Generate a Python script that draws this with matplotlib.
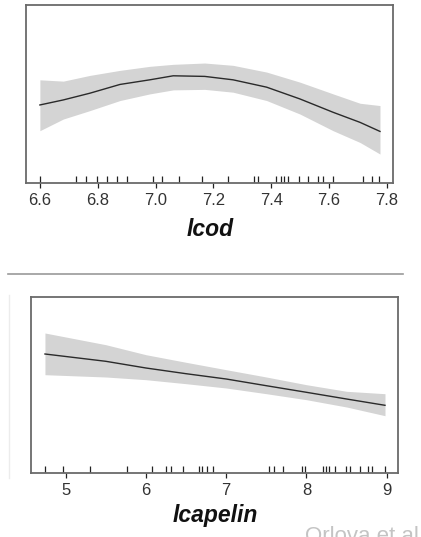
import matplotlib
matplotlib.use("Agg")
import matplotlib.pyplot as plt
from matplotlib.lines import Line2D

# ---------------- data ----------------
cod_x = [6.600, 6.681, 6.773, 6.877, 6.980, 7.061, 7.170, 7.268, 7.384, 7.499, 7.614, 7.707, 7.776]
cod_fit = [0.773, 0.823, 0.890, 0.977, 1.023, 1.063, 1.057, 1.023, 0.950, 0.833, 0.700, 0.600, 0.510]
cod_upper = [1.023, 1.010, 1.067, 1.117, 1.157, 1.177, 1.190, 1.167, 1.100, 1.000, 0.883, 0.790, 0.767]
cod_lower = [0.517, 0.633, 0.717, 0.817, 0.883, 0.923, 0.928, 0.900, 0.817, 0.683, 0.517, 0.400, 0.285]
cod_rug = [6.600, 6.725, 6.759, 6.796, 6.833, 6.865, 6.900, 6.992, 7.021, 7.081,
           7.159, 7.249, 7.340, 7.355, 7.418, 7.433, 7.444, 7.459, 7.496, 7.528,
           7.563, 7.578, 7.614, 7.718, 7.747, 7.772]
cod_ticks = [6.6, 6.8, 7.0, 7.2, 7.4, 7.6, 7.8]
cod_ticklabels = ["6.6", "6.8", "7.0", "7.2", "7.4", "7.6", "7.8"]

cap_x = [4.742, 5.5, 6.0, 6.5, 7.0, 7.5, 8.0, 8.5, 8.979]
cap_fit = [1.190, 1.117, 1.050, 0.993, 0.940, 0.873, 0.807, 0.740, 0.677]
cap_upper = [1.400, 1.283, 1.183, 1.107, 1.033, 0.960, 0.883, 0.817, 0.793]
cap_lower = [0.983, 0.960, 0.933, 0.893, 0.850, 0.793, 0.733, 0.660, 0.573]
cap_rug = [4.742, 4.971, 5.303, 5.760, 6.072, 6.246, 6.308, 6.466, 6.666, 6.703,
           6.765, 6.840, 7.538, 7.596, 7.704, 7.941, 7.983, 8.211, 8.244, 8.281,
           8.356, 8.489, 8.543, 8.668, 8.771, 8.813, 8.979]
cap_ticks = [5, 6, 7, 8, 9]
cap_ticklabels = ["5", "6", "7", "8", "9"]

# ---------------- figure ----------------
W, H = 421, 537
fig = plt.figure(figsize=(W / 100, H / 100), dpi=100)
fig.patch.set_facecolor("white")

BAND = "#d4d4d4"
LINE = "#2a2a2a"
BOX = "#6a6a6a"
TXT = "#333333"
FONT = "Liberation Sans"


def panel(rect, x, fit, lo, hi, rug, ticks, labels, xlim, ylim, xlabel, lab_y):
    ax = fig.add_axes(rect)
    ax.fill_between(x, lo, hi, color=BAND, lw=0)
    ax.plot(x, fit, color=LINE, lw=1.0)
    ax.vlines(rug, 0, 0.038, transform=ax.get_xaxis_transform(), color="#222222", lw=0.9)
    ax.set_xlim(*xlim)
    ax.set_ylim(*ylim)
    ax.set_yticks([])
    ax.set_xticks(ticks)
    ax.set_xticklabels(labels, fontfamily=FONT, fontsize=12, color=TXT)
    ax.tick_params(axis="x", direction="out", length=3.6, width=0.9, pad=3.5, color="#222222")
    for s in ax.spines.values():
        s.set_color(BOX)
        s.set_linewidth(1.3)
    ax.set_xlabel(xlabel, fontfamily=FONT, fontsize=16.5, fontweight="bold",
                  fontstyle="italic", color="#111111")
    ax.xaxis.set_label_coords(0.501, lab_y)
    return ax


panel([26 / W, 1 - 182.7 / H, 367 / W, 177.7 / H], cod_x, cod_fit, cod_lower, cod_upper,
      cod_rug, cod_ticks, cod_ticklabels, (6.552, 7.821), (0, 1.767), "lcod", -0.20)

panel([31 / W, 1 - 473 / H, 367 / W, 176 / H], cap_x, cap_fit, cap_lower, cap_upper,
      cap_rug, cap_ticks, cap_ticklabels, (4.568, 9.141), (0, 1.76), "lcapelin", -0.175)

# separator line between panels
fig.add_artist(Line2D([8 / W, 403 / W], [1 - 273.5 / H, 1 - 273.5 / H],
                      transform=fig.transFigure, color="#9a9a9a", lw=1.2))
# faint left edge line of cropped neighbour panel
fig.add_artist(Line2D([8.5 / W, 8.5 / W], [1 - 478 / H, 1 - 295 / H],
                      transform=fig.transFigure, color="#ececec", lw=1.0))

# cropped credit text (cut off at the bottom edge, as in the source image)
fig.text(305 / W, 1 - 526 / H, "Orlova et al.", fontfamily=FONT, fontsize=16,
         color="#c4c4c4", va="top", ha="left")

fig.savefig("out.png", dpi=100, facecolor="white")
